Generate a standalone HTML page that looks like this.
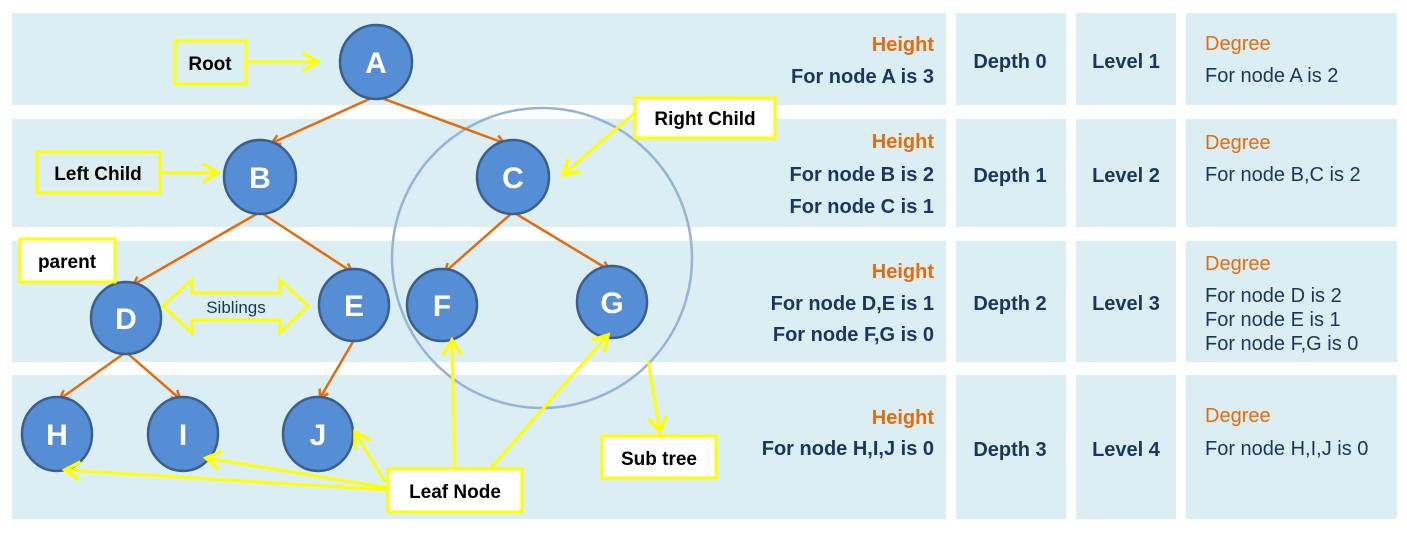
<!DOCTYPE html>
<html><head><meta charset="utf-8"><style>
html,body{margin:0;padding:0;background:#fff}
svg{display:block}
text{font-family:"Liberation Sans",sans-serif}
.n{fill:#fff;font-weight:bold;font-size:30px;text-anchor:middle}
.b{fill:#000;font-weight:bold;font-size:19px}
.o{fill:#e46c0a;font-weight:bold;font-size:20px}
.d{fill:#17375e;font-weight:bold;font-size:20px}
.r{fill:#17375e;font-size:20px}
</style></head><body>
<svg width="1407" height="535" viewBox="0 0 1407 535" xmlns="http://www.w3.org/2000/svg">
<defs>
<marker id="ao" markerWidth="12" markerHeight="12" refX="9" refY="6" orient="auto" markerUnits="userSpaceOnUse"><path d="M1,1 L9,6 L1,11" fill="none" stroke="#e46c0a" stroke-width="2.5"/></marker>
<marker id="ay" markerWidth="22" markerHeight="22" refX="18" refY="11" orient="auto" markerUnits="userSpaceOnUse"><path d="M3,2 L18,11 L3,20" fill="none" stroke="#ffff00" stroke-width="3.5"/></marker>
</defs>
<g fill="#dbeef4">
<rect x="12" y="13" width="934" height="92"/><rect x="956" y="13" width="110" height="92"/><rect x="1076" y="13" width="100" height="92"/><rect x="1186" y="13" width="211" height="92"/>
<rect x="12" y="119" width="934" height="108"/><rect x="956" y="119" width="110" height="108"/><rect x="1076" y="119" width="100" height="108"/><rect x="1186" y="119" width="211" height="108"/>
<rect x="12" y="241" width="934" height="121"/><rect x="956" y="241" width="110" height="121"/><rect x="1076" y="241" width="100" height="121"/><rect x="1186" y="241" width="211" height="121"/>
<rect x="12" y="375" width="934" height="144"/><rect x="956" y="375" width="110" height="144"/><rect x="1076" y="375" width="100" height="144"/><rect x="1186" y="375" width="211" height="144"/>
</g>
<circle cx="542" cy="258" r="150" fill="none" stroke="#95b3d7" stroke-width="2.5"/>
<g stroke="#e46c0a" stroke-width="2.5" marker-end="url(#ao)">
<line x1="376" y1="96" x2="272" y2="143"/><line x1="376" y1="96" x2="504" y2="143"/>
<line x1="260" y1="212" x2="133" y2="285"/><line x1="260" y1="212" x2="352" y2="272"/>
<line x1="513" y1="212" x2="445" y2="272"/><line x1="513" y1="212" x2="609" y2="270"/>
<line x1="126" y1="352" x2="60" y2="399"/><line x1="126" y1="352" x2="180" y2="399"/>
<line x1="354" y1="340" x2="320" y2="398"/>
</g>
<g fill="#558ed5" stroke="#3a5f8f" stroke-width="2.5">
<ellipse cx="376" cy="62" rx="36" ry="37"/><ellipse cx="260" cy="177" rx="36" ry="37"/><ellipse cx="513" cy="177" rx="36" ry="37"/>
<ellipse cx="126" cy="318" rx="35" ry="36"/><ellipse cx="354" cy="305" rx="35" ry="36"/><ellipse cx="442" cy="305" rx="35" ry="36"/><ellipse cx="612" cy="302" rx="35" ry="36"/>
<ellipse cx="57" cy="434" rx="35" ry="37"/><ellipse cx="183" cy="434" rx="35" ry="37"/><ellipse cx="318" cy="434" rx="35" ry="37"/>
</g>
<g class="n">
<text x="376" y="73" class="n">A</text><text x="260" y="188" class="n">B</text><text x="513" y="188" class="n">C</text>
<text x="126" y="329" class="n">D</text><text x="354" y="316" class="n">E</text><text x="442" y="316" class="n">F</text><text x="612" y="313" class="n">G</text>
<text x="57" y="445" class="n">H</text><text x="183" y="445" class="n">I</text><text x="318" y="445" class="n">J</text>
</g>
<g stroke="#ffff00" stroke-width="3" fill="none" marker-end="url(#ay)">
<line x1="248" y1="62" x2="318" y2="62"/><line x1="162" y1="173" x2="218" y2="173"/>
<line x1="637" y1="111" x2="563" y2="175"/>
<line x1="388" y1="490" x2="65" y2="470"/><line x1="388" y1="488" x2="206" y2="458"/>
<line x1="385" y1="482" x2="355" y2="432"/><line x1="455" y1="468" x2="452" y2="340"/>
<line x1="470" y1="492" x2="608" y2="335"/><line x1="648" y1="360" x2="660" y2="432"/>
</g>
<polygon points="163,306 192,280 192,293 280,293 280,280 308,306 280,333 280,320 192,320 192,333" fill="#dbeef4" stroke="#ffff00" stroke-width="3"/>
<text x="236" y="313" text-anchor="middle" style="font-size:17px;fill:#17375e">Siblings</text>
<g fill="#fff" stroke="#ffff00" stroke-width="3">
<rect x="175" y="41" width="71" height="43" fill="#dbeef4"/>
<rect x="37" y="152" width="123" height="41" fill="#dbeef4"/>
<rect x="635" y="98" width="140" height="40" fill="#fff"/>
<rect x="20" y="239" width="95" height="43" fill="#fff"/>
<rect x="388" y="469" width="134" height="43" fill="#fff"/>
<rect x="602" y="436" width="114" height="42" fill="#fff"/>
</g>
<text x="210" y="70" text-anchor="middle" class="b">Root</text>
<text x="98" y="180" text-anchor="middle" class="b">Left Child</text>
<text x="705" y="125" text-anchor="middle" class="b">Right Child</text>
<text x="67" y="268" text-anchor="middle" class="b">parent</text>
<text x="455" y="498" text-anchor="middle" class="b">Leaf Node</text>
<text x="659" y="465" text-anchor="middle" class="b">Sub tree</text>
<g text-anchor="end">
<text x="934" y="51" class="o">Height</text><text x="934" y="83" class="d">For node A is 3</text>
<text x="934" y="148" class="o">Height</text><text x="934" y="181" class="d">For node B is 2</text><text x="934" y="213" class="d">For node C is 1</text>
<text x="934" y="278" class="o">Height</text><text x="934" y="310" class="d">For node D,E is 1</text><text x="934" y="341" class="d">For node F,G is 0</text>
<text x="934" y="424" class="o">Height</text><text x="934" y="455" class="d">For node H,I,J is 0</text>
</g>
<g text-anchor="middle" class="d">
<text x="1010" y="68" class="d">Depth 0</text><text x="1010" y="182" class="d">Depth 1</text><text x="1010" y="310" class="d">Depth 2</text><text x="1010" y="456" class="d">Depth 3</text>
<text x="1126" y="68" class="d">Level 1</text><text x="1126" y="182" class="d">Level 2</text><text x="1126" y="310" class="d">Level 3</text><text x="1126" y="456" class="d">Level 4</text>
</g>
<text x="1205" y="50" class="o" style="font-weight:normal">Degree</text><text x="1205" y="82" class="r">For node A is 2</text>
<text x="1205" y="149" class="o" style="font-weight:normal">Degree</text><text x="1205" y="181" class="r">For node B,C is 2</text>
<text x="1205" y="270" class="o" style="font-weight:normal">Degree</text>
<text x="1205" y="302" class="r">For node D is 2</text><text x="1205" y="326" class="r">For node E is 1</text><text x="1205" y="350" class="r">For node F,G is 0</text>
<text x="1205" y="422" class="o" style="font-weight:normal">Degree</text><text x="1205" y="455" class="r">For node H,I,J is 0</text>
</svg>
</body></html>
